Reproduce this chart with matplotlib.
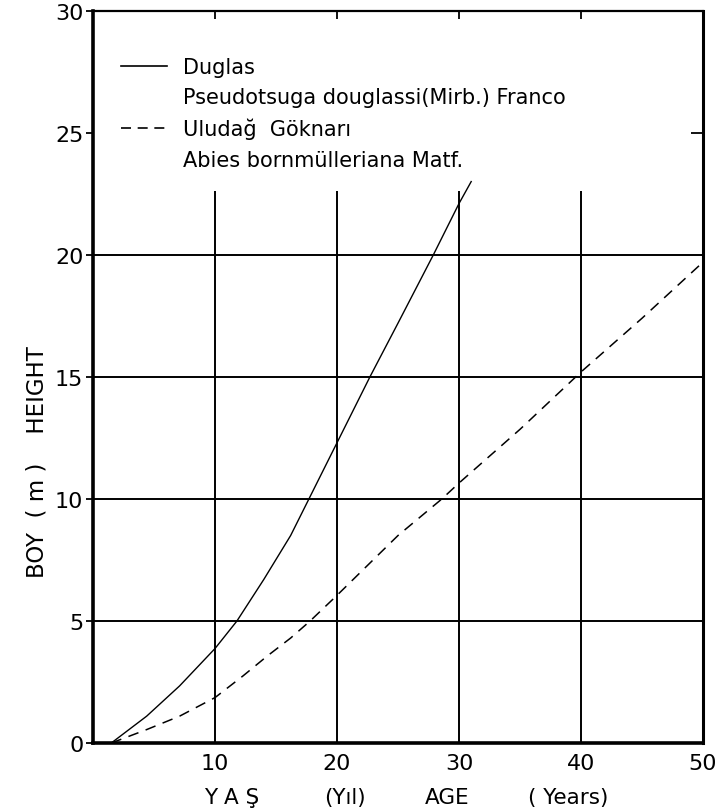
import matplotlib
matplotlib.use("Agg")
import matplotlib.pyplot as plt
from matplotlib.lines import Line2D

# ---- data ----
age_douglas = [1.5, 4.4, 7.1, 10, 11.8, 14, 16.2, 17.7, 20, 22.7, 25, 27.9, 30, 31]
height_douglas = [0, 1.1, 2.34, 3.87, 5.0, 6.7, 8.5, 10.0, 12.3, 15.0, 17.2, 20.0, 22.1, 23.0]

age_abies = [1.5, 4.4, 7.1, 10, 12.3, 14.25, 16.2, 17.8, 20, 25, 28.6, 30, 35, 40, 45, 50]
height_abies = [0, 0.55, 1.1, 1.86, 2.75, 3.55, 4.3, 5.0, 6.05, 8.5, 10.0, 10.65, 12.85, 15.2, 17.4, 19.7]

x_ticks = [10, 20, 30, 40, 50]
y_ticks = [0, 5, 10, 15, 20, 25, 30]
h_grid = [5, 10, 15, 20]
v_grid = [10, 20, 30, 40]
v_grid_top = 22.6

legend_labels = ["Duglas", "Pseudotsuga douglassi(Mirb.) Franco",
                 "Uludağ  Göknarı", "Abies bornmülleriana Matf."]
xlabel_parts = ["Y A Ş", "(Yıl)", "AGE", "( Years)"]
ylabel_text = "BOY  ( m )    HEIGHT"

plt.rcParams['font.family'] = ['DejaVu Sans']

W, H = 716, 812
fig = plt.figure(figsize=(W / 100, H / 100), dpi=100)
ax = fig.add_axes([93 / W, 1 - 744 / H, (703 - 93) / W, (744 - 11.7) / H])

ax.set_xlim(0, 50)
ax.set_ylim(0, 30)

# grid
ax.hlines(h_grid, 0, 50, color='black', lw=1.4, zorder=1)
ax.vlines(v_grid, 0, v_grid_top, color='black', lw=1.4, zorder=1)

# curves
ax.plot(age_douglas, height_douglas, color='black', lw=1.0, zorder=3)
ax.plot(age_abies, height_abies, color='black', lw=1.1, dashes=(7, 5), zorder=3)

# spines
for side, lw in [('left', 2.6), ('bottom', 2.6), ('right', 2.2), ('top', 1.6)]:
    ax.spines[side].set_linewidth(lw)
    ax.spines[side].set_color('black')

ax.set_xticks(x_ticks)
ax.set_xticklabels([str(v) for v in x_ticks])
ax.set_yticks(y_ticks)
ax.set_yticklabels([str(v) for v in y_ticks])
ax.tick_params(axis='x', direction='in', top=True, bottom=False, length=6,
               width=1.3, labelsize=16, pad=7)
ax.tick_params(axis='y', direction='out', left=True, right=False, length=5,
               width=1.3, labelsize=16, pad=2)

sec = ax.secondary_yaxis('right')
sec.set_yticks([25])
sec.set_yticklabels([])
sec.tick_params(direction='in', length=9, width=1.3)
sec.spines['right'].set_visible(False)

# legend
handles = [Line2D([], [], color='black', lw=1.2),
           Line2D([], [], linestyle='none'),
           Line2D([], [], color='black', lw=1.2, dashes=(6, 4)),
           Line2D([], [], linestyle='none')]
ax.legend(handles, legend_labels, loc='upper left', bbox_to_anchor=(0.046, 0.937),
          frameon=False, fontsize=15, handlelength=2.2, handletextpad=0.75,
          labelspacing=0.5, borderpad=0, borderaxespad=0)

# axis labels
fig.text(37 / W, 1 - 462 / H, ylabel_text, rotation=90, ha='center', va='center',
         fontsize=16.5)
for part, xc in zip(xlabel_parts, [232, 345, 447, 568]):
    fig.text(xc / W, 1 - 798 / H, part, ha='center', va='center', fontsize=15.5)

fig.savefig("out.png", dpi=100, facecolor='white')
